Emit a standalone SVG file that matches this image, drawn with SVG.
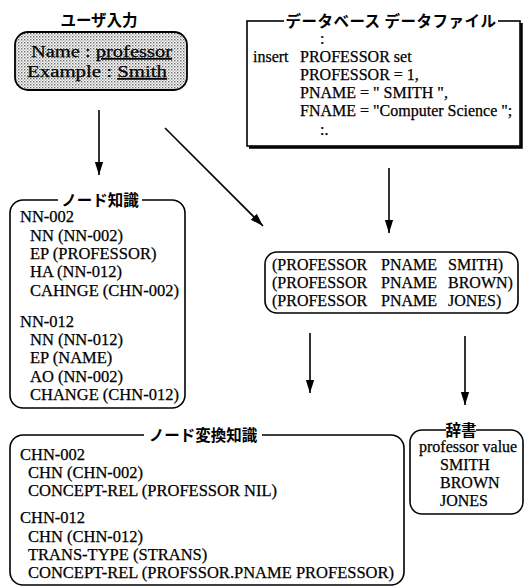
<svg xmlns="http://www.w3.org/2000/svg" width="526" height="588" viewBox="0 0 526 588">
<style>
.box{fill:none;stroke:#000;stroke-width:1.6}
.t{font-family:"Liberation Serif","Times New Roman",serif;font-size:16.5px;fill:#000;stroke:#000;stroke-width:0.25}
.s{font-size:16px}
.jp{font-family:"Noto Sans CJK JP","Noto Sans CJK SC",sans-serif;font-weight:bold;font-size:15.5px;fill:#000}
.bg{fill:#fff}
.conn{stroke:#000;stroke-width:1.6;fill:none;marker-end:url(#ah)}
</style>
<defs>
<marker id="ah" viewBox="0 0 10 10" refX="10" refY="5" markerWidth="13" markerHeight="13" markerUnits="userSpaceOnUse" orient="auto">
<path d="M0,1.8 L10,5 L0,8.2 z" fill="#000"/>
</marker>
<pattern id="dots" width="3" height="3" patternUnits="userSpaceOnUse">
<rect width="3" height="3" fill="#fff"/>
<rect x="0" y="0" width="1.4" height="1.4" fill="#666"/>
<rect x="1.5" y="1.5" width="1.2" height="1.2" fill="#888"/>
</pattern>
</defs>
<rect width="526" height="588" fill="#fff"/>

<g id="user-input">
<text class="jp" x="99" y="26" text-anchor="middle" font-size="16">ユーザ入力</text>
<rect x="15" y="32" width="172" height="58" rx="13" fill="url(#dots)" stroke="#000" stroke-width="1.8"/>
<text class="t" x="31" y="57" font-size="21.5" textLength="141" lengthAdjust="spacingAndGlyphs">Name : <tspan text-decoration="underline">professor</tspan></text>
<text class="t" x="27" y="77" font-size="21.5" textLength="140" lengthAdjust="spacingAndGlyphs">Example : <tspan text-decoration="underline">Smith</tspan></text>
</g>

<g id="db-file">
<rect class="box" x="247" y="21" width="273" height="125"/>
<path d="M249,147.5 H521.5 V23" fill="none" stroke="#000" stroke-width="2.5"/>
<rect class="bg" x="284" y="10" width="214" height="20"/>
<text class="jp" x="391" y="27" text-anchor="middle" font-size="16" letter-spacing="0.5">データベース データファイル</text>
<text class="t s" x="320" y="44">:</text>
<text class="t s" x="253" y="62">insert</text>
<text class="t s" x="300" y="62">PROFESSOR set</text>
<text class="t s" x="300" y="80">PROFESSOR = 1,</text>
<text class="t s" x="300" y="98">PNAME = " SMITH ",</text>
<text class="t s" x="300" y="116">FNAME = "Computer Science ";</text>
<text class="t s" x="320" y="135">:.</text>
</g>

<g id="node-knowledge">
<rect class="box" x="10" y="200" width="175" height="208" rx="13"/>
<rect class="bg" x="58" y="190" width="84" height="20"/>
<text class="jp" x="100" y="206" text-anchor="middle">ノード知識</text>
<text class="t" x="20" y="222">NN-002</text>
<text class="t" x="30" y="241">NN (NN-002)</text>
<text class="t" x="30" y="259">EP (PROFESSOR)</text>
<text class="t" x="30" y="277">HA (NN-012)</text>
<text class="t" x="30" y="296">CAHNGE (CHN-002)</text>
<text class="t" x="20" y="327">NN-012</text>
<text class="t" x="30" y="345">NN (NN-012)</text>
<text class="t" x="30" y="363">EP (NAME)</text>
<text class="t" x="30" y="382">AO (NN-002)</text>
<text class="t" x="30" y="400">CHANGE (CHN-012)</text>
</g>

<g id="triples">
<rect class="box" x="265" y="252" width="253" height="61" rx="12"/>
<text class="t s" y="270"><tspan x="272">(PROFESSOR</tspan><tspan x="381">PNAME</tspan><tspan x="448">SMITH)</tspan></text>
<text class="t s" y="288"><tspan x="272">(PROFESSOR</tspan><tspan x="381">PNAME</tspan><tspan x="448">BROWN)</tspan></text>
<text class="t s" y="306"><tspan x="272">(PROFESSOR</tspan><tspan x="381">PNAME</tspan><tspan x="448">JONES)</tspan></text>
</g>

<g id="node-transform-knowledge">
<rect class="box" x="10" y="435" width="394" height="150" rx="13"/>
<rect class="bg" x="144" y="425" width="118" height="20"/>
<text class="jp" x="203" y="441" text-anchor="middle">ノード変換知識</text>
<text class="t" x="20" y="460">CHN-002</text>
<text class="t" x="28" y="478">CHN (CHN-002)</text>
<text class="t" x="28" y="496">CONCEPT-REL (PROFESSOR NIL)</text>
<text class="t" x="20" y="523">CHN-012</text>
<text class="t" x="28" y="542">CHN (CHN-012)</text>
<text class="t" x="28" y="560">TRANS-TYPE (STRANS)</text>
<text class="t" x="28" y="578">CONCEPT-REL (PROFSSOR.PNAME PROFESSOR)</text>
</g>

<g id="dictionary">
<rect class="box" x="410" y="430" width="113" height="84" rx="12"/>
<rect class="bg" x="446" y="420" width="30" height="20"/>
<text class="jp" x="461" y="436" text-anchor="middle">辞書</text>
<text class="t s" x="419" y="452">professor value</text>
<text class="t s" x="440" y="470">SMITH</text>
<text class="t s" x="440" y="488">BROWN</text>
<text class="t s" x="440" y="506">JONES</text>
</g>

<g id="connectors">
<line class="conn" x1="99" y1="110" x2="99" y2="175"/>
<line class="conn" x1="165" y1="128" x2="263" y2="226"/>
<line class="conn" x1="389" y1="168" x2="389" y2="233"/>
<line class="conn" x1="310" y1="333" x2="310" y2="393"/>
<line class="conn" x1="465" y1="336" x2="465" y2="405"/>
</g>
</svg>
